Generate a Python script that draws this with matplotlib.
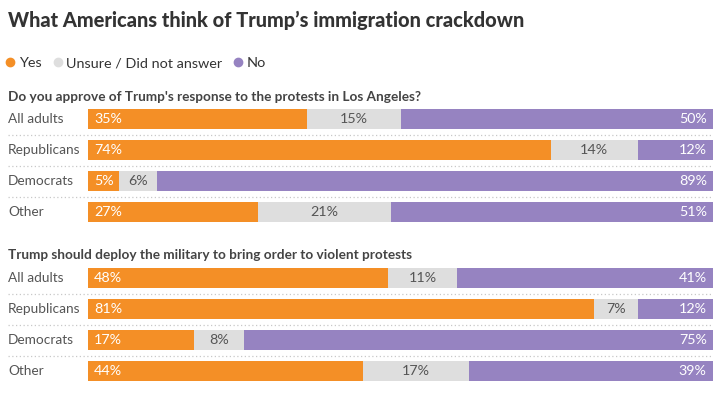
import numpy as np
import matplotlib
matplotlib.use("Agg")
import matplotlib.pyplot as plt
from matplotlib.lines import Line2D

plt.rcParams['font.family'] = ['Lato', 'DejaVu Sans']

groups = ["All adults", "Republicans", "Democrats", "Other"]

q1_title = "Do you approve of Trump's response to the protests in Los Angeles?"
q1_yes = [35, 74, 5, 27]
q1_unsure = [15, 14, 6, 21]
q1_no = [50, 12, 89, 51]

q2_title = "Trump should deploy the military to bring order to violent protests"
q2_yes = [48, 81, 17, 44]
q2_unsure = [11, 7, 8, 17]
q2_no = [41, 12, 75, 39]

c_yes = "#f48f26"
c_unsure = "#dedede"
c_no = "#9683c1"
c_text = "#444444"

W, H = 723, 398
fig = plt.figure(figsize=(W / 100, H / 100), dpi=100)


def fx(px):
    return px / W


def fy(py):
    return 1 - py / H


def panel(top, bottom, yes, unsure, no):
    ax = fig.add_axes([fx(88), fy(bottom), fx(713) - fx(88), fy(top) - fy(bottom)])
    yes = np.array(yes, float)
    unsure = np.array(unsure, float)
    no = np.array(no, float)
    tot = yes + unsure + no
    y = np.arange(len(groups))
    h = 20 / 31
    yy, uu, nn = yes / tot * 100, unsure / tot * 100, no / tot * 100
    ax.barh(y, yy, height=h, color=c_yes)
    ax.barh(y, uu, left=yy, height=h, color=c_unsure)
    ax.barh(y, nn, left=yy + uu, height=h, color=c_no)
    for i in range(len(groups)):
        ax.text(1, y[i], f"{yes[i]:.0f}%", color="white", va="center", ha="left", fontsize=10.3)
        ax.text(yy[i] + uu[i] / 2, y[i], f"{unsure[i]:.0f}%", color="#555555",
                va="center", ha="center", fontsize=10.3)
        ax.text(99, y[i], f"{no[i]:.0f}%", color="white", va="center", ha="right", fontsize=10.3)
        ax.text(-80 / 625 * 100, y[i], groups[i], color="#555555", va="center",
                ha="left", fontsize=9.8, clip_on=False)
    for s in [0.5, 1.5, 2.5]:
        ax.plot([-80 / 625 * 100, 100], [s, s], color="#c8c8c8", lw=0.9,
                ls=(0, (1, 2)), clip_on=False)
    ax.set_xlim(0, 100)
    ax.set_ylim(len(groups) - 0.5, -0.5)
    ax.axis("off")
    return ax


panel(103.5, 227.5, q1_yes, q1_unsure, q1_no)
panel(262.5, 386.5, q2_yes, q2_unsure, q2_no)

fig.text(fx(8), fy(20), "What Americans think of Trump\u2019s immigration crackdown",
         fontsize=14.4, fontweight=900, color="#333333", va="center", ha="left")
fig.text(fx(8), fy(97), q1_title, fontsize=9.8, fontweight="bold", color=c_text,
         va="center", ha="left")
fig.text(fx(8), fy(255), q2_title, fontsize=9.8, fontweight="bold", color=c_text,
         va="center", ha="left")

handles = [Line2D([], [], ls="none", marker="o", ms=6, color=c) for c in (c_yes, c_unsure, c_no)]
fig.legend(handles, ["Yes", "Unsure / Did not answer", "No"], loc="center left",
           bbox_to_anchor=(fx(6), fy(63)), ncol=3, frameon=False, fontsize=10.4,
           handletextpad=0.3, columnspacing=0.8, handlelength=0.6,
           borderpad=0, borderaxespad=0, labelcolor="#333333")

fig.savefig("out.png", dpi=100)
